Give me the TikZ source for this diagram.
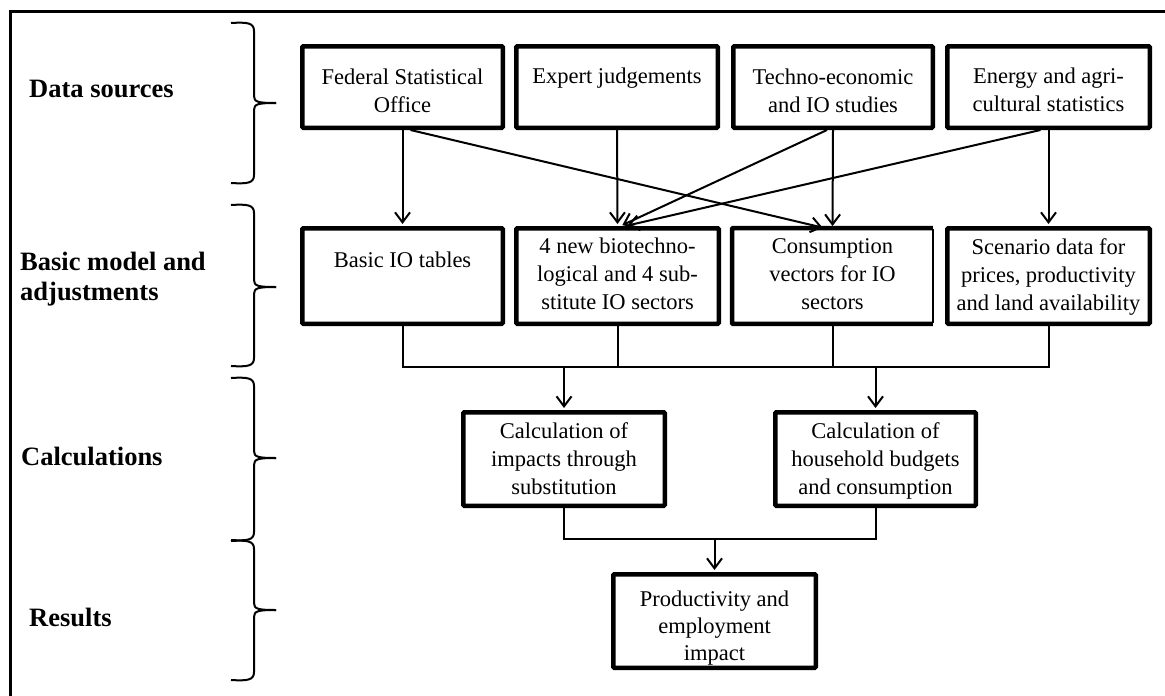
\documentclass[tikz,border=0pt]{standalone}
\usepackage{fontspec}
\setmainfont{Liberation Serif}
\usetikzlibrary{arrows.meta,calc}
\newcommand{\drawbrace}[3]{%
  \draw[brc] (231,#1) .. controls (248,#1-1) and (254,#1) .. (254,#1+8) -- (254,#2-7) .. controls (254,#2-1) and (258,#2) .. (276,#2);
  \draw[brc] (276,#2) .. controls (258,#2) and (254,#2+1) .. (254,#2+7) -- (254,#3-8) .. controls (254,#3) and (248,#3+1) .. (231,#3);
}
\begin{document}
\begin{tikzpicture}[x=1pt,y=-1pt,
  box/.style={draw, line width=4.5pt, rounded corners=1pt, inner sep=0pt},
  txt/.style={font=\fontsize{22.5}{28}\selectfont, align=center, inner sep=0pt, anchor=base},
  lab/.style={font=\fontsize{26.5}{30}\selectfont\bfseries, align=left, inner sep=0pt, anchor=base west},
  conn/.style={line width=2pt},
  arr/.style={conn, shorten >=2pt, -{Straight Barb[length=10pt,width=15pt,line width=2pt]}},
  brc/.style={line width=2pt}]
\useasboundingbox (0,0) rectangle (1165,696);
% frame
\draw[line width=3pt] (10.5,696) -- (10.5,11) -- (1165,11);
% row labels (base = last line)
\node[lab] (l1) at (29,97) {Data sources};
\node[lab] (l2) at (20,300) {Basic model and\\adjustments};
\node[lab] (l3) at (21,465) {Calculations};
\node[lab] (l4) at (29,626) {Results};
% braces
\drawbrace{23}{103}{183}
\drawbrace{205}{287}{366}
\drawbrace{378}{458}{540}
\drawbrace{541}{610}{680}
% top row
\node[box, minimum width=200.5pt, minimum height=81.5pt] (fso) at (402.5,87) {};
\node[box, minimum width=201.5pt, minimum height=81.5pt] (exp) at (617,87) {};
\node[box, minimum width=199.5pt, minimum height=81.5pt] (tec) at (833,87) {};
\node[box, minimum width=202.5pt, minimum height=81.5pt] (ene) at (1048.5,87) {};
\node[txt] (tfso) at (402.5,112) {Federal Statistical\\Office};
\node[txt] (texp) at (617,83) {Expert judgements};
\node[txt] (ttec) at (833,112) {Techno-economic\\and IO studies};
\node[txt] (tene) at (1048.5,111) {Energy and agri-\\cultural statistics};
% second row
\node[box, minimum width=200.5pt, minimum height=95.5pt] (tab) at (402.5,276) {};
\node[box, minimum width=202.5pt, minimum height=95.5pt] (sec) at (617.5,276) {};
\node[minimum width=200.5pt, minimum height=95.5pt, inner sep=0pt] (con) at (832.5,276) {};
\draw[line width=4.5pt, rounded corners=1pt] (con.north east) -- (con.north west) -- (con.south west) -- (con.south east);
\draw[line width=1.5pt] ([yshift=-1pt]con.north east) -- ([yshift=1pt]con.south east);
\node[box, minimum width=202.5pt, minimum height=95.5pt] (scn) at (1048.5,276) {};
\node[txt] (ttab) at (402.5,267) {Basic IO tables};
\node[txt] (tsec) at (617.5,309) {4 new biotechno-\\logical and 4 sub-\\stitute IO sectors};
\node[txt] (tcon) at (832.5,309) {Consumption\\vectors for IO\\sectors};
\node[txt] (tscn) at (1048.5,310) {Scenario data for\\prices, productivity\\and land availability};
% calculations
\node[box, minimum width=201.5pt, minimum height=93.5pt] (c1) at (564,459) {};
\node[box, minimum width=200.5pt, minimum height=93.5pt] (c2) at (875.5,459) {};
\node[txt] (tc1) at (564,494) {Calculation of\\impacts through\\substitution};
\node[txt] (tc2) at (875.5,494) {Calculation of\\household budgets\\and consumption};
% result
\node[box, minimum width=202.5pt, minimum height=93.5pt] (prod) at (714.5,621) {};
\node[txt, font=\fontsize{22.5}{27}\selectfont] (tprod) at (714.5,660) {Productivity and\\employment\\impact};
% top connectors
\draw[arr] (fso.south) -- (tab.north);
\draw[arr] ([xshift=8pt]fso.south) -- ([xshift=-8pt]con.north);
\draw[arr] (exp.south) -- (sec.north);
\draw[arr] (tec.south) -- (con.north);
\draw[arr] ([xshift=-6pt]tec.south) -- ([xshift=3pt]sec.north);
\draw[arr] ([xshift=-8pt]ene.south) -- ([xshift=8pt]sec.north);
\draw[arr] (ene.south) -- (scn.north);
% bus to calculations
\coordinate (busA) at (0,367);
\draw[conn] (tab.south) -- (tab.south |- busA) -- (scn.south |- busA) -- (scn.south);
\draw[conn] (sec.south) -- (sec.south |- busA);
\draw[conn] (con.south) -- (con.south |- busA);
\draw[arr] (c1.north |- busA) -- (c1.north);
\draw[arr] (c2.north |- busA) -- (c2.north);
% bus to result
\coordinate (busB) at (0,539);
\draw[conn] (c1.south) -- (c1.south |- busB) -- (c2.south |- busB) -- (c2.south);
\draw[arr] (prod.north |- busB) -- (prod.north);
\end{tikzpicture}
\end{document}
